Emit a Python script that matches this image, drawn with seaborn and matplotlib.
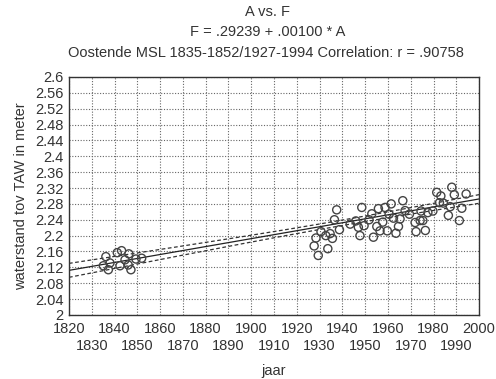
import numpy as np
import pandas as pd
import matplotlib
matplotlib.use("Agg")
import matplotlib.pyplot as plt
import seaborn as sns

# ---- data ----
years_early = [1835.1, 1836.2, 1837.3, 1838.0, 1841.2, 1842.4, 1843.1, 1844.6,
               1846.0, 1846.3, 1847.2, 1849.4, 1851.9]
level_early = [2.124, 2.147, 2.114, 2.131, 2.157, 2.124, 2.162, 2.139,
               2.126, 2.154, 2.114, 2.141, 2.143]

years_late = [1927.6, 1928.4, 1929.4, 1930.6, 1932.7, 1933.6, 1934.6, 1935.6,
              1936.5, 1937.5, 1938.7, 1943.4, 1945.9, 1947.0, 1947.7, 1948.5,
              1949.5, 1951.7, 1952.9, 1953.6, 1955.1, 1955.8, 1956.5, 1957.7,
              1958.7, 1959.7, 1960.5, 1961.4, 1962.4, 1963.5, 1964.6, 1965.3,
              1966.5, 1967.5, 1969.4, 1971.9, 1972.3, 1974.1, 1974.5, 1975.3,
              1976.4, 1977.5, 1979.7, 1981.4, 1982.6, 1983.2, 1984.3, 1986.5,
              1987.3, 1988.0, 1989.1, 1991.3, 1992.4, 1994.3]
level_late = [2.174, 2.194, 2.150, 2.210, 2.200, 2.167, 2.205, 2.193,
              2.240, 2.265, 2.215, 2.229, 2.237, 2.221, 2.200, 2.271,
              2.225, 2.240, 2.255, 2.196, 2.223, 2.268, 2.212, 2.234,
              2.271, 2.212, 2.254, 2.280, 2.244, 2.206, 2.223, 2.242,
              2.288, 2.263, 2.254, 2.233, 2.210, 2.238, 2.262, 2.238,
              2.213, 2.258, 2.262, 2.309, 2.283, 2.300, 2.282, 2.251,
              2.273, 2.322, 2.303, 2.238, 2.269, 2.305]

intercept = 0.29239
slope = 0.00100

xticks_top = [1820, 1840, 1860, 1880, 1900, 1920, 1940, 1960, 1980, 2000]
xticks_bottom = [1830, 1850, 1870, 1890, 1910, 1930, 1950, 1970, 1990]
yticks = [2.0, 2.04, 2.08, 2.12, 2.16, 2.2, 2.24, 2.28, 2.32, 2.36, 2.4,
          2.44, 2.48, 2.52, 2.56, 2.6]

# ---- build ----
sns.set_style("white")
plt.rcParams['font.family'] = ['Liberation Sans', 'DejaVu Sans']
TXT = "#333333"
FS = 10.5

df = pd.DataFrame({"jaar": years_early + years_late,
                   "level": level_early + level_late})

fig = plt.figure(figsize=(4.96, 3.79), dpi=100)
ax = fig.add_axes([0.139, 0.169, 0.827, 0.628])

# regression line from the stated equation, confidence band from the points
xs = np.linspace(1820, 2000, 200)
fit = intercept + slope * xs
x = df["jaar"].to_numpy(); y = df["level"].to_numpy()
n = len(x)
resid = y - (intercept + slope * x)
s = np.sqrt(np.sum(resid ** 2) / (n - 2))
sxx = np.sum((x - x.mean()) ** 2)
se = s * np.sqrt(1.0 / n + (xs - x.mean()) ** 2 / sxx)
band = 1.99 * se

lines = pd.DataFrame({"jaar": xs, "fit": fit, "lo": fit - band, "hi": fit + band})
sns.lineplot(data=lines, x="jaar", y="fit", ax=ax, color="#222222", lw=0.9)
sns.lineplot(data=lines, x="jaar", y="lo", ax=ax, color="#333333", lw=0.9,
             linestyle=(0, (3, 2)))
sns.lineplot(data=lines, x="jaar", y="hi", ax=ax, color="#333333", lw=0.9,
             linestyle=(0, (3, 2)))

sns.scatterplot(data=df, x="jaar", y="level", ax=ax, s=34, marker="o",
                facecolor="none", edgecolor="#444444", linewidth=1.0, zorder=5)

ax.set_xlim(1820, 2000)
ax.set_ylim(2.0, 2.6)
ax.set_xticks(xticks_top)
ax.set_xticks(xticks_bottom, minor=True)
ax.set_xticklabels([str(v) for v in xticks_top])
ax.set_xticklabels([str(v) for v in xticks_bottom], minor=True)
ax.tick_params(axis="x", which="major", length=0, pad=5, labelsize=FS,
               labelcolor=TXT)
ax.tick_params(axis="x", which="minor", length=0, pad=17, labelsize=FS,
               labelcolor=TXT)
ax.set_yticks(yticks)
ax.set_yticklabels([f"{v:g}" for v in yticks])
ax.tick_params(axis="y", length=0, pad=4, labelsize=FS, labelcolor=TXT)

ax.grid(True, which="both", color="#666666", linestyle=(0, (1, 1.5)), lw=0.8)
ax.set_axisbelow(True)
for sp in ax.spines.values():
    sp.set_color("#333333")
    sp.set_linewidth(1.0)
    sp.set_visible(True)

ax.set_xlabel("jaar", fontsize=FS, color=TXT, va="center")
ax.xaxis.set_label_coords(0.5, -0.235)
ax.set_ylabel("waterstand tov TAW in meter", fontsize=FS, color=TXT,
              labelpad=5)

fig.text(0.54, 0.968, "A vs. F", ha="center", va="center", fontsize=FS,
         color=TXT)
fig.text(0.54, 0.915, "F = .29239 + .00100 * A", ha="center", va="center",
         fontsize=FS, color=TXT)
fig.text(0.537, 0.86, "Oostende MSL 1835-1852/1927-1994 Correlation: r = .90758",
         ha="center", va="center", fontsize=FS, color=TXT)

fig.savefig("out.png", dpi=100, facecolor="white")
